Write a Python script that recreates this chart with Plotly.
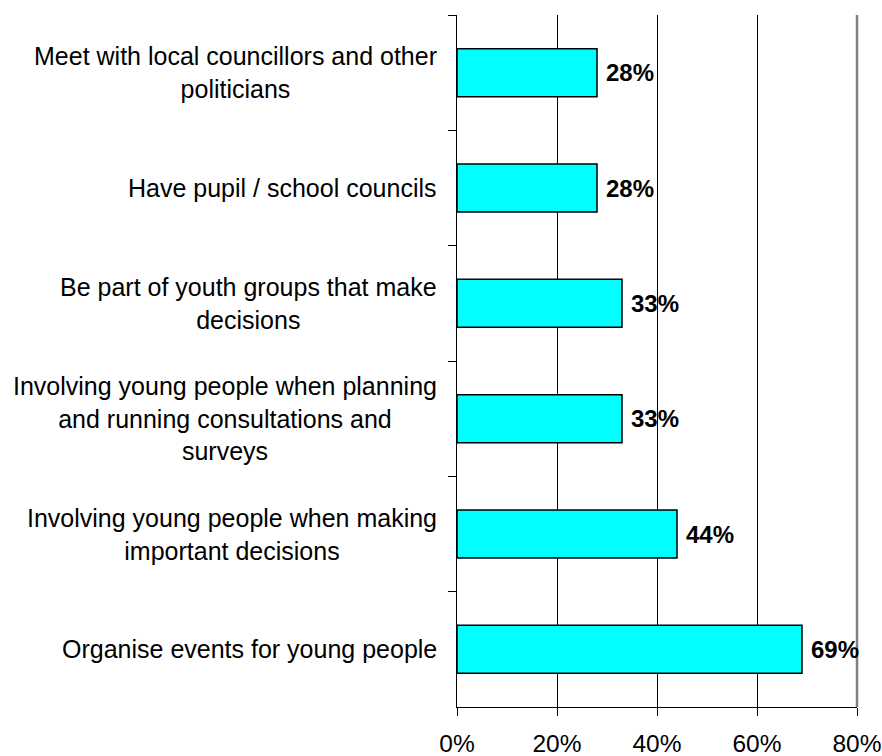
import plotly.graph_objects as go

categories = [
    "Meet with local councillors and other<br>politicians",
    "Have pupil / school councils",
    "Be part of youth groups that make<br>decisions",
    "Involving young people when planning<br>and running consultations and<br>surveys",
    "Involving young people when making<br>important decisions",
    "Organise events for young people",
]
values = [28, 28, 33, 33, 44, 69]
x_ticks = [0, 20, 40, 60, 80]
x_tick_labels = ["0%", "20%", "40%", "60%", "80%"]

FONT = "Liberation Sans, Arial, sans-serif"

fig = go.Figure()
fig.add_trace(go.Bar(
    x=values,
    y=categories,
    orientation="h",
    marker=dict(color="#00FFFF", line=dict(color="black", width=1.5)),
    hoverinfo="x+y",
))

annotations = []
for cat in categories:
    annotations.append(dict(
        x=0, xref="paper", y=cat, yref="y",
        text=cat, showarrow=False, xanchor="right", yanchor="middle",
        align="center", xshift=-18,
        font=dict(family=FONT, size=25, color="black"),
    ))
for cat, v in zip(categories, values):
    annotations.append(dict(
        x=v, xref="x", y=cat, yref="y",
        text=f"<b>{v}%</b>", showarrow=False, xanchor="left", yanchor="middle",
        xshift=7,
        font=dict(family=FONT, size=24, color="black"),
    ))

fig.update_layout(
    width=882, height=756,
    margin=dict(l=457, r=25, t=15, b=49, autoexpand=False),
    paper_bgcolor="white", plot_bgcolor="white",
    bargap=0.584,
    showlegend=False,
    annotations=annotations,
    font=dict(family=FONT, color="black"),
    shapes=[dict(type="line", xref="paper", yref="paper", x0=1, x1=1, y0=0, y1=1,
                 line=dict(color="#808080", width=2.5), layer="above")],
)
fig.update_xaxes(
    range=[0, 80], tickvals=x_ticks, ticktext=x_tick_labels,
    showgrid=True, gridcolor="black", gridwidth=1,
    showline=True, linecolor="black", linewidth=1,
    ticks="outside", ticklen=8, tickcolor="black",
    zeroline=False, automargin=False,
    tickfont=dict(family=FONT, size=24.5, color="black"),
    ticklabelstandoff=7,
    ticklabeloverflow="allow",
)
fig.update_yaxes(
    autorange="reversed",
    showticklabels=False, automargin=False,
    ticks="outside", ticklen=8, tickcolor="black", tickson="boundaries",
    showline=True, linecolor="black", linewidth=1,
    showgrid=False, zeroline=False,
)

fig.write_html(
    "out.html",
    config={"displayModeBar": False},
    post_script="document.body.style.margin='0';document.body.style.overflow='hidden';",
)
